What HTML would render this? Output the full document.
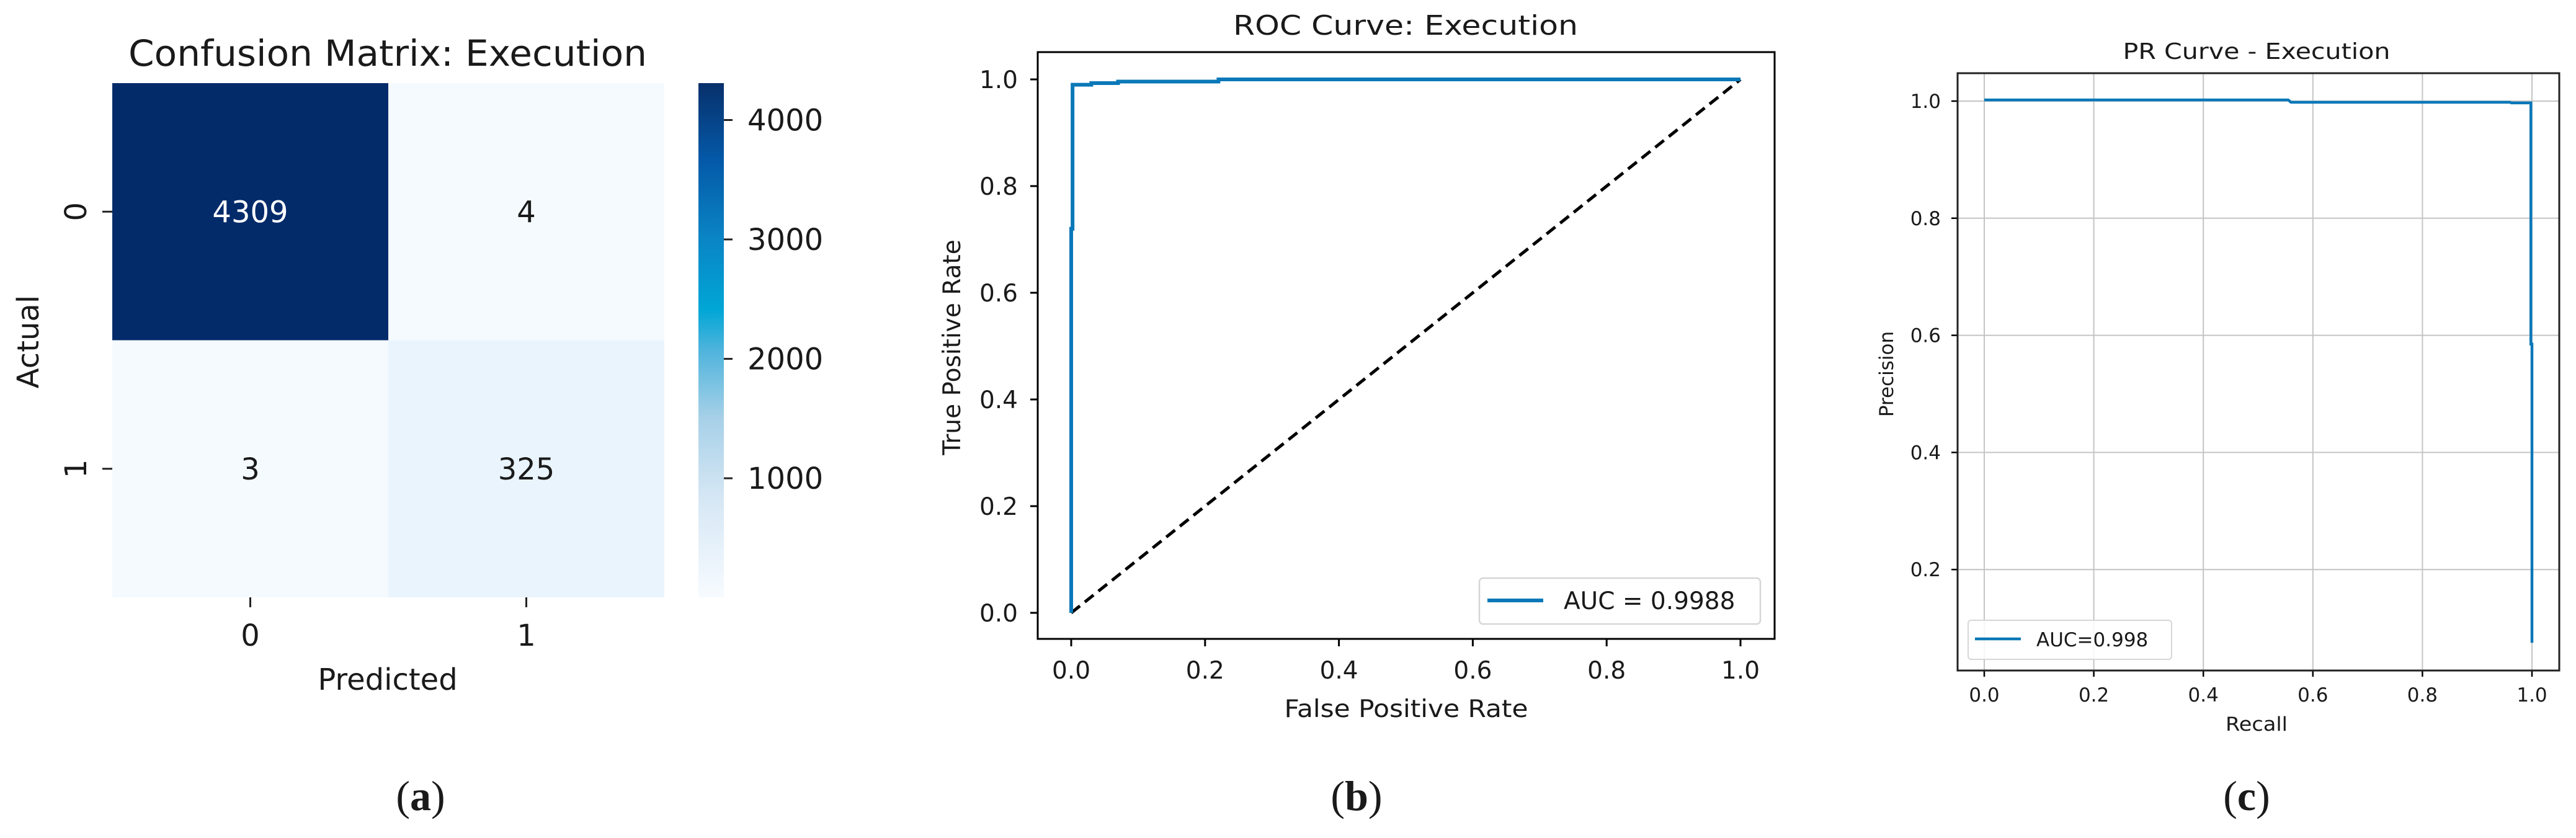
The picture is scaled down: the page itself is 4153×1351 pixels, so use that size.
<!DOCTYPE html>
<html><head><meta charset="utf-8">
<style>
html,body{margin:0;padding:0;background:#fff;}
svg{display:block;}
text{font-family:"DejaVu Sans","Liberation Sans",sans-serif;fill:#1a1a1a;}
.cap{font-family:"Liberation Serif",serif;font-size:68px;}
</style></head>
<body>
<svg id="fig" width="4153" height="1351" viewBox="0 0 4153 1351" xmlns="http://www.w3.org/2000/svg">
<defs>
<linearGradient id="blues" x1="0" y1="1" x2="0" y2="0">
<stop offset="0" stop-color="#f7fbff"/>
<stop offset="0.2" stop-color="#d4e6f4"/>
<stop offset="0.35" stop-color="#a6d0e8"/>
<stop offset="0.48" stop-color="#4fb4dc"/>
<stop offset="0.56" stop-color="#00a6d6"/>
<stop offset="0.7" stop-color="#0a84c4"/>
<stop offset="0.85" stop-color="#0459a8"/>
<stop offset="1" stop-color="#08306b"/>
</linearGradient>
</defs>
<g id="pa"></g>
<g id="pb"></g>
<g id="pc"></g>
<text class="cap" x="678" y="1306" text-anchor="middle">(<tspan font-weight="bold">a</tspan>)</text>
<text class="cap" x="2187" y="1306" text-anchor="middle">(<tspan font-weight="bold">b</tspan>)</text>
<text class="cap" x="3622" y="1306" text-anchor="middle">(<tspan font-weight="bold">c</tspan>)</text>
</svg>
<script>
// ---- data ----
const cmLabels = ["0","1"];
const cmValues = [[4309,4],[3,325]];
const cbTicks = [1000,2000,3000,4000];
const rocFpr = [0,0,0.002,0.002,0.03,0.03,0.07,0.07,0.22,0.22,1.0];
const rocTpr = [0,0.72,0.72,0.99,0.99,0.993,0.993,0.996,0.996,1.0,1.0];
const rocAuc = "AUC = 0.9988";
const prRecall = [0,0.555,0.56,0.96,0.962,0.998,0.998,1.0,1.0];
const prPrecision = [1.002,1.002,0.998,0.998,0.997,0.997,0.585,0.585,0.075];
const prAuc = "AUC=0.998";
const rocTicks = [0,0.2,0.4,0.6,0.8,1.0];
const prXTicks = [0,0.2,0.4,0.6,0.8,1.0];
const prYTicks = [0.2,0.4,0.6,0.8,1.0];

const NS="http://www.w3.org/2000/svg";
function mk(parent,tag,attrs,txt){const e=document.createElementNS(NS,tag);for(const k in attrs)e.setAttribute(k,attrs[k]);if(txt!==undefined)e.textContent=txt;parent.appendChild(e);return e;}

// ---- Panel A: confusion matrix ----
const pa=document.getElementById('pa');
const hx0=181,hx1=1071,hy0=134,hy1=963;
const cw=(hx1-hx0)/2,ch=(hy1-hy0)/2;
const vmin=3,vmax=4309;
function cellFill(v){ if(v>4000) return '#032b6a'; const t=(v-vmin)/(vmax-vmin); const r=Math.round(245-t*160),g=Math.round(250-t*80),b=Math.round(255-t*30); return `rgb(${r},${g},${b})`;}
for(let r=0;r<2;r++)for(let c=0;c<2;c++){
  const v=cmValues[r][c];
  const rect=mk(pa,'rect',{x:hx0+c*cw,y:hy0+r*ch,width:cw,height:ch,fill:cellFill(v)});
  
  
  const t=mk(pa,'text',{x:hx0+(c+0.5)*cw,y:hy0+(r+0.5)*ch+17,'text-anchor':'middle','font-size':48},String(v));
  
  
  if(v>2000) t.style.fill='#ffffff';
}
cmLabels.forEach((l,i)=>{
  const cx=hx0+(i+0.5)*cw;
  mk(pa,'line',{x1:cx,y1:hy1,x2:cx,y2:hy1+16,stroke:'#222','stroke-width':3});
  const t=mk(pa,'text',{x:cx,y:1041,'text-anchor':'middle','font-size':48},l);
  
  
  const cy=hy0+(i+0.5)*ch;
  mk(pa,'line',{x1:hx0,y1:cy,x2:hx0-16,y2:cy,stroke:'#222','stroke-width':3});
  const ty=mk(pa,'text',{x:0,y:0,'text-anchor':'middle','font-size':48,transform:`translate(139,${cy}) rotate(-90)`},l);
  
  
});
let e;
e=mk(pa,'text',{x:625,y:106,'text-anchor':'middle','font-size':58,textLength:836,lengthAdjust:'spacingAndGlyphs'},'Confusion Matrix: Execution');

e=mk(pa,'text',{x:625,y:1112,'text-anchor':'middle','font-size':48},'Predicted');

e=mk(pa,'text',{x:0,y:0,'text-anchor':'middle','font-size':48,transform:'translate(62,551) rotate(-90)'},'Actual');

const bx0=1126,bx1=1167;
e=mk(pa,'rect',{x:bx0,y:hy0,width:bx1-bx0,height:hy1-hy0,fill:'url(#blues)'});

function cbY(v){return hy1-(v-vmin)/(vmax-vmin)*(hy1-hy0);}
cbTicks.forEach(v=>{
  const y=cbY(v);
  mk(pa,'line',{x1:bx1,y1:y,x2:bx1+14,y2:y,stroke:'#222','stroke-width':3});
  const t=mk(pa,'text',{x:1205,y:y+17,'font-size':48},String(v));
  
  
});

// ---- Panel B: ROC ----
const pb=document.getElementById('pb');
const bX0=1673,bX1=2861,bY0=84,bY1=1030;
function rx(v){return 1727+v*(2806-1727);}
function ry(v){return 988-v*(988-128);}
rocTicks.forEach(v=>{
  mk(pb,'line',{x1:rx(v),y1:bY1,x2:rx(v),y2:bY1+12,stroke:'#000','stroke-width':3});
  let t=mk(pb,'text',{x:rx(v),y:1094,'text-anchor':'middle','font-size':39},v.toFixed(1));
  
  mk(pb,'line',{x1:bX0,y1:ry(v),x2:bX0-12,y2:ry(v),stroke:'#000','stroke-width':3});
  t=mk(pb,'text',{x:1641,y:ry(v)+14,'text-anchor':'end','font-size':39},v.toFixed(1));
  
});
e=mk(pb,'line',{x1:rx(0),y1:ry(0),x2:rx(1),y2:ry(1),stroke:'#000','stroke-width':5,'stroke-dasharray':'18,10'});

e=mk(pb,'polyline',{points:rocFpr.map((f,i)=>rx(f)+','+ry(rocTpr[i])).join(' '),fill:'none',stroke:'#0a78b8','stroke-width':6});

e=mk(pb,'rect',{x:bX0,y:bY0,width:bX1-bX0,height:bY1-bY0,fill:'none',stroke:'#000','stroke-width':3});

e=mk(pb,'rect',{x:2385,y:932,width:453,height:74,rx:6,fill:'#fff',stroke:'#d6d6d6','stroke-width':2.5});

mk(pb,'line',{x1:2398,y1:968,x2:2488,y2:968,stroke:'#0a78b8','stroke-width':6});
e=mk(pb,'text',{x:2521,y:982,'font-size':39},rocAuc);

e=mk(pb,'text',{x:2266,y:56,'text-anchor':'middle','font-size':44,textLength:556,lengthAdjust:'spacingAndGlyphs'},'ROC Curve: Execution');

e=mk(pb,'text',{x:2267,y:1156,'text-anchor':'middle','font-size':39,textLength:393,lengthAdjust:'spacingAndGlyphs'},'False Positive Rate');

e=mk(pb,'text',{x:0,y:0,'text-anchor':'middle','font-size':39,transform:'translate(1548,560) rotate(-90)'},'True Positive Rate');


// ---- Panel C: PR ----
const pc=document.getElementById('pc');
const cX0=3156,cX1=4126,cY0=118,cY1=1081;
function px(v){return 3199+v*(4082-3199);}
function py(v){return 1107-v*(1107-163)/1.0;}
prXTicks.forEach(v=>{
  mk(pc,'line',{x1:px(v),y1:cY0,x2:px(v),y2:cY1,stroke:'#c4c4c4','stroke-width':2});
  mk(pc,'line',{x1:px(v),y1:cY1,x2:px(v),y2:cY1+10,stroke:'#000','stroke-width':2.5});
  const t=mk(pc,'text',{x:px(v),y:1131,'text-anchor':'middle','font-size':31},v.toFixed(1));
  
});
prYTicks.forEach(v=>{
  mk(pc,'line',{x1:cX0,y1:py(v),x2:cX1,y2:py(v),stroke:'#c4c4c4','stroke-width':2});
  mk(pc,'line',{x1:cX0,y1:py(v),x2:cX0-10,y2:py(v),stroke:'#000','stroke-width':2.5});
  const t=mk(pc,'text',{x:3129,y:py(v)+11,'text-anchor':'end','font-size':31},v.toFixed(1));
  
});
e=mk(pc,'polyline',{points:prRecall.map((r,i)=>px(r)+','+py(prPrecision[i])).join(' '),fill:'none',stroke:'#0a78b8','stroke-width':4.5});

e=mk(pc,'rect',{x:cX0,y:cY0,width:cX1-cX0,height:cY1-cY0,fill:'none',stroke:'#222','stroke-width':3});

e=mk(pc,'rect',{x:3173,y:1000,width:328,height:63,rx:5,fill:'#fff','fill-opacity':0.85,stroke:'#d6d6d6','stroke-width':2});

mk(pc,'line',{x1:3184,y1:1030,x2:3258,y2:1030,stroke:'#0a78b8','stroke-width':4.5});
e=mk(pc,'text',{x:3283,y:1042,'font-size':31},prAuc);

e=mk(pc,'text',{x:3638,y:95,'text-anchor':'middle','font-size':36,textLength:431,lengthAdjust:'spacingAndGlyphs'},'PR Curve - Execution');

e=mk(pc,'text',{x:3638,y:1178,'text-anchor':'middle','font-size':31,textLength:100,lengthAdjust:'spacingAndGlyphs'},'Recall');

e=mk(pc,'text',{x:0,y:0,'text-anchor':'middle','font-size':31,transform:'translate(3052,603) rotate(-90)'},'Precision');

</script>
</body></html>
